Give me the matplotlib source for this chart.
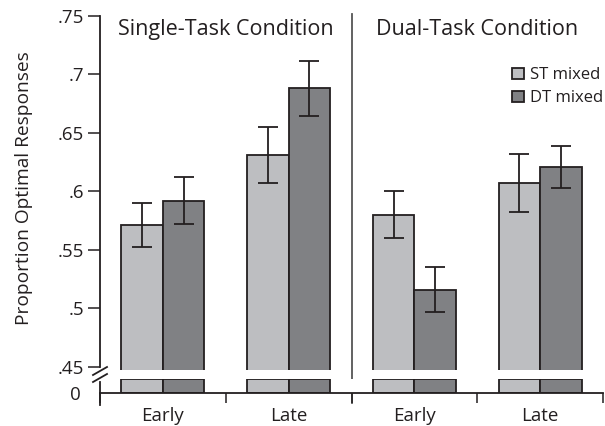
import matplotlib
matplotlib.use("Agg")
import matplotlib.pyplot as plt
from matplotlib.transforms import blended_transform_factory
import numpy as np

plt.rcParams['font.family'] = ['Open Sans', 'DejaVu Sans']

# data
groups = ['Early', 'Late', 'Early', 'Late']
panels = ['Single-Task Condition', 'Dual-Task Condition']
series = ['ST mixed', 'DT mixed']
st_mixed = [0.571, 0.631, 0.580, 0.607]
st_err = [0.019, 0.024, 0.020, 0.025]
dt_mixed = [0.592, 0.688, 0.516, 0.621]
dt_err = [0.020, 0.0235, 0.019, 0.018]
yticks = [0.45, 0.5, 0.55, 0.6, 0.65, 0.7, 0.75]
ytick_labels = ['.45', '.5', '.55', '.6', '.65', '.7', '.75']

c_light = '#bdbec1'
c_dark = '#808184'
ink = '#231f20'

W, H = 605, 426
fig = plt.figure(figsize=(W / 100, H / 100), dpi=100)

def px_axes(x0, y0, x1, y1):
    # pixel box (top-left origin) -> figure fraction
    return fig.add_axes([x0 / W, 1 - y1 / H, (x1 - x0) / W, (y1 - y0) / H])

ax = px_axes(100, 16, 603, 370)
axb = px_axes(100, 379, 603, 393)

x = np.arange(len(groups))
w = 0.33
bar_kw = dict(edgecolor=ink, linewidth=1.3, zorder=2)
err_kw = dict(fmt='none', ecolor=ink, elinewidth=1.3, capsize=7.5, capthick=1.3, zorder=3)

ax.bar(x - w / 2, st_mixed, w, bottom=0, color=c_light, label=series[0], **bar_kw)
ax.bar(x + w / 2, dt_mixed, w, bottom=0, color=c_dark, label=series[1], **bar_kw)
ax.errorbar(x - w / 2, st_mixed, yerr=st_err, **err_kw)
ax.errorbar(x + w / 2, dt_mixed, yerr=dt_err, **err_kw)

ax.set_xlim(-0.5, 3.5)
ax.set_ylim(0.4472, 0.75)
ax.set_yticks(yticks)
ax.set_yticklabels(ytick_labels)
ax.set_xticks([])
for s in ['top', 'right', 'bottom']:
    ax.spines[s].set_visible(False)
ax.spines['left'].set_color(ink)
ax.spines['left'].set_linewidth(1.3)
ax.spines['left'].set_bounds(0.4497, 0.75)
ax.tick_params(axis='y', length=8.6, width=1.1, color=ink, labelsize=13.5, pad=3, labelcolor=ink)

# stub bars below the break
stub = [1] * len(groups)
axb.bar(x - w / 2, stub, w, color=c_light, **bar_kw)
axb.bar(x + w / 2, stub, w, color=c_dark, **bar_kw)
axb.set_xlim(-0.5, 3.5)
axb.set_ylim(0, 1)
axb.set_yticks([0])
axb.set_yticklabels(['0'])
axb.tick_params(axis='y', length=0, labelsize=13.5, pad=14, labelcolor=ink)
axb.set_xticks(x)
axb.set_xticklabels(groups)
axb.set_xticks(np.arange(-0.5, 4, 1), minor=True)
axb.tick_params(axis='x', which='major', length=0, labelsize=13.5, pad=10, labelcolor=ink)
axb.tick_params(axis='x', which='minor', length=7.2, width=1.1, color=ink)
for s in ['top', 'right', 'left']:
    axb.spines[s].set_visible(False)
axb.spines['bottom'].set_color(ink)
axb.spines['bottom'].set_linewidth(1.3)
# lower part of the y axis, running past the x axis
axb.plot([-0.5, -0.5], [-0.86, 0.8], color=ink, lw=1.3, clip_on=False,
         transform=blended_transform_factory(axb.transData, axb.transAxes))

# break marks
for dy in [0, 7]:
    fig.add_artist(plt.Line2D([93 / W, 107 / W], [1 - (375 + dy) / H, 1 - (367 + dy) / H],
                              color=ink, lw=1.3))

# divider between panels
ax.plot([1.5, 1.5], [-0.093, 1.005], color='#555555', lw=1.3, clip_on=False,
        transform=ax.get_xaxis_transform())

# panel titles
for i, t in enumerate(panels):
    ax.text(2 * i + 0.5, 0.963, t, transform=ax.get_xaxis_transform(),
            ha='center', va='center', fontsize=15.5, color=ink)

fig.text(24 / W, 1 - 188 / H, 'Proportion Optimal Responses', rotation=90,
         ha='center', va='center', fontsize=13.8, color=ink)

ax.legend(loc='upper left', bbox_to_anchor=(0.819, 0.855), frameon=False,
          fontsize=12, handlelength=0.7, handleheight=0.7, handletextpad=0.4,
          labelspacing=0.42, borderpad=0, borderaxespad=0, labelcolor=ink)

fig.savefig('out.png', dpi=100)
